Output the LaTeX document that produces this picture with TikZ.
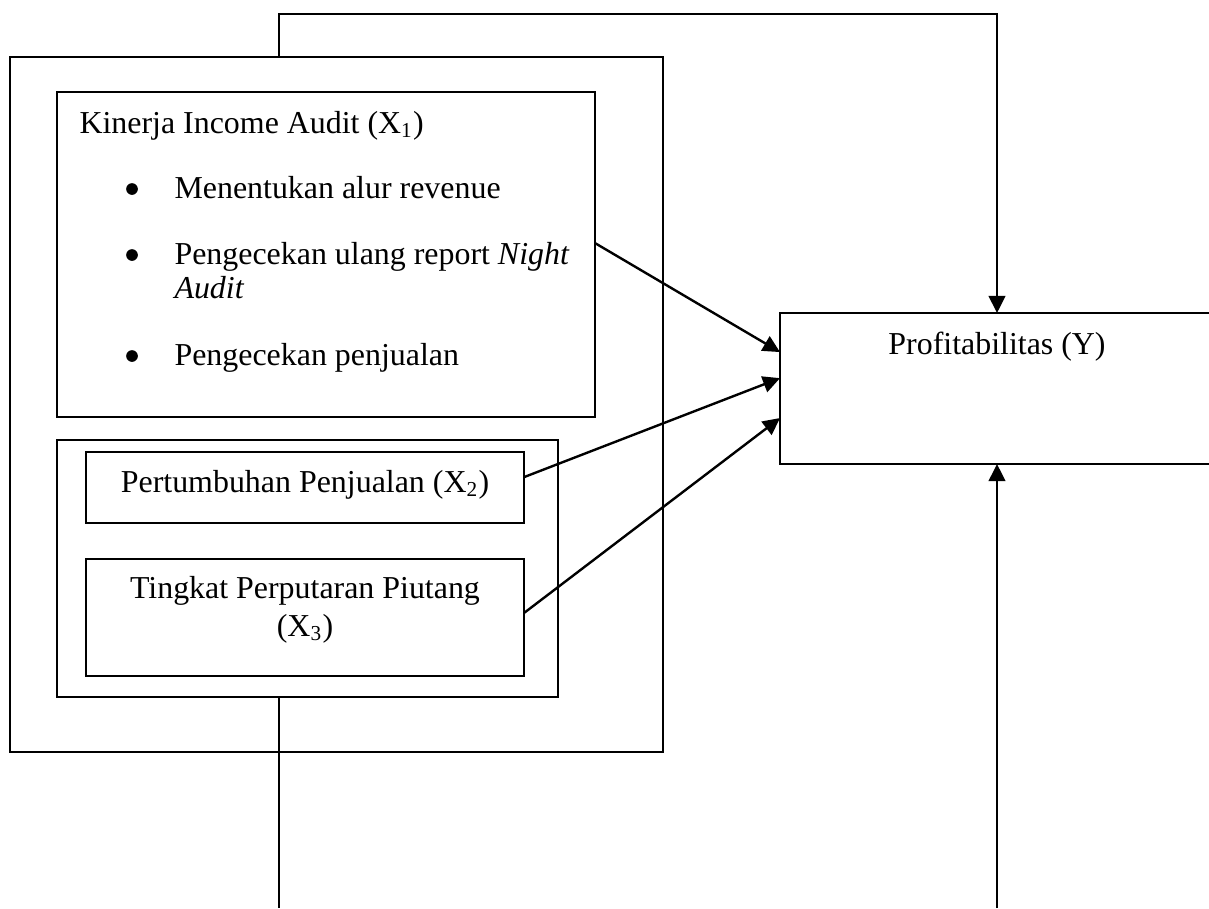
\documentclass[tikz,border=0pt]{standalone}
\usepackage{fontspec}
\setmainfont{Liberation Serif}
\usetikzlibrary{arrows.meta,fit}

\tikzset{
    box/.style={draw, line width=0.6pt, inner sep=0pt, outer sep=0pt, fit={#1}},
    txt/.style={inner sep=0pt, font=\fontsize{12}{14}\selectfont},
    dot/.style={circle, fill, inner sep=0pt, minimum size=4.4pt},
    link/.style={line width=0.9pt, -{Triangle[length=6.4pt,width=6.2pt]}},
    plain/.style={line width=0.6pt}
}

\begin{document}
\begin{tikzpicture}[x=0.376pt, y=-0.376pt]
\useasboundingbox (0,0) rectangle (1209,908);
\clip (0,0) rectangle (1209,908);

% boxes
\node[box={(10,57) (663,752)}] (outer) {};
\node[box={(57,92) (595,417)}] (x1) {};
\node[box={(57,440) (558,697)}] (group) {};
\node[box={(86,452) (524,523)}] (x2) {};
\node[box={(86,559) (524,676)}] (x3) {};
\node[box={(780,313) (1214,464)}] (y) {};

% texts
\node[txt, anchor=base west] (x1title) at (79,133) {Kinerja Income Audit (X\textsubscript{1})};
\foreach \yy [count=\i] in {189,255,356}
    \node[dot] (dot\i) at (132,\yy) {};
\node[txt, anchor=base west] (item1) at (174,198) {Menentukan alur revenue};
\node[txt, anchor=base west] (item2) at (174,264) {Pengecekan ulang report \textit{Night}};
\node[txt, anchor=base west] (item2b) at (174,298) {\textit{Audit}};
\node[txt, anchor=base west] (item3) at (174,365) {Pengecekan penjualan};

\node[txt, anchor=base] (x2txt) at (305,492) {Pertumbuhan Penjualan (X\textsubscript{2})};
\node[txt, anchor=base] (x3txt) at (305,598) {Tingkat Perputaran Piutang};
\node[txt, anchor=base] (x3sub) at (305,636) {(X\textsubscript{3})};
\node[txt, anchor=base] (ytxt) at (997,354) {Profitabilitas (Y)};

% connectors
\draw[link] ([yshift=4.3pt]x1.east) -- ([yshift=13.7pt]y.west);
\draw[link] ([yshift=3.9pt]x2.east) -- ([yshift=3.9pt]y.west);
\draw[link] ([yshift=1.7pt]x3.east) -- ([yshift=-11.1pt]y.west);

\coordinate (ttop) at (279,14);
\draw[link] (ttop |- outer.north) -- (ttop) -| (y.north);

\coordinate (bleft) at (279,908);
\draw[plain] (bleft |- group.south) -- (bleft);

\coordinate (bright) at (997,908);
\draw[link] (bright) -- (y.south);
\end{tikzpicture}
\end{document}
